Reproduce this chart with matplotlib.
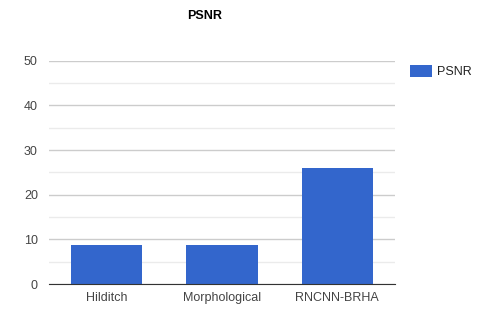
import matplotlib
matplotlib.use("Agg")
import matplotlib.pyplot as plt
import numpy as np

methods = ["Hilditch", "Morphological", "RNCNN-BRHA"]
psnr = [8.8, 8.8, 25.9]
yticks = [0, 10, 20, 30, 40, 50]

plt.rcParams['font.family'] = ['Liberation Sans', 'DejaVu Sans']

fig = plt.figure(figsize=(4.8, 3.22), dpi=100)
ax = fig.add_axes([0.102, 0.118, 0.721, 0.693])

x = np.arange(len(methods))
ax.bar(x, psnr, width=0.62, color='#3366cc', label='PSNR', zorder=3)

ax.set_xlim(-0.5, len(methods) - 0.5)
ax.set_ylim(0, 50)
ax.set_yticks(yticks)
ax.set_yticks(np.arange(5, 50, 10), minor=True)
ax.set_xticks(x)
ax.set_xticklabels(methods)
ax.tick_params(axis='both', length=0, labelsize=9, colors='#444444')
ax.tick_params(axis='x', pad=6)
ax.tick_params(axis='y', pad=8)
ax.tick_params(axis='y', which='minor', length=0)
ax.grid(axis='y', which='major', color='#cccccc', linewidth=1, zorder=0)
ax.grid(axis='y', which='minor', color='#ebebeb', linewidth=1, zorder=0)
for s in ['top', 'right', 'left']:
    ax.spines[s].set_visible(False)
ax.spines['bottom'].set_color('#333333')
ax.spines['bottom'].set_zorder(4)

fig.text(0.427, 0.950, "PSNR", ha='center', va='center', fontsize=9, fontweight='bold', color='#000000')

leg = ax.legend(loc='upper left', bbox_to_anchor=(1.01, 1.03), frameon=False,
                fontsize=9, handlelength=1.8, handleheight=1.0, handletextpad=0.4)
for t in leg.get_texts():
    t.set_color('#222222')

fig.savefig("out.png", dpi=100)
